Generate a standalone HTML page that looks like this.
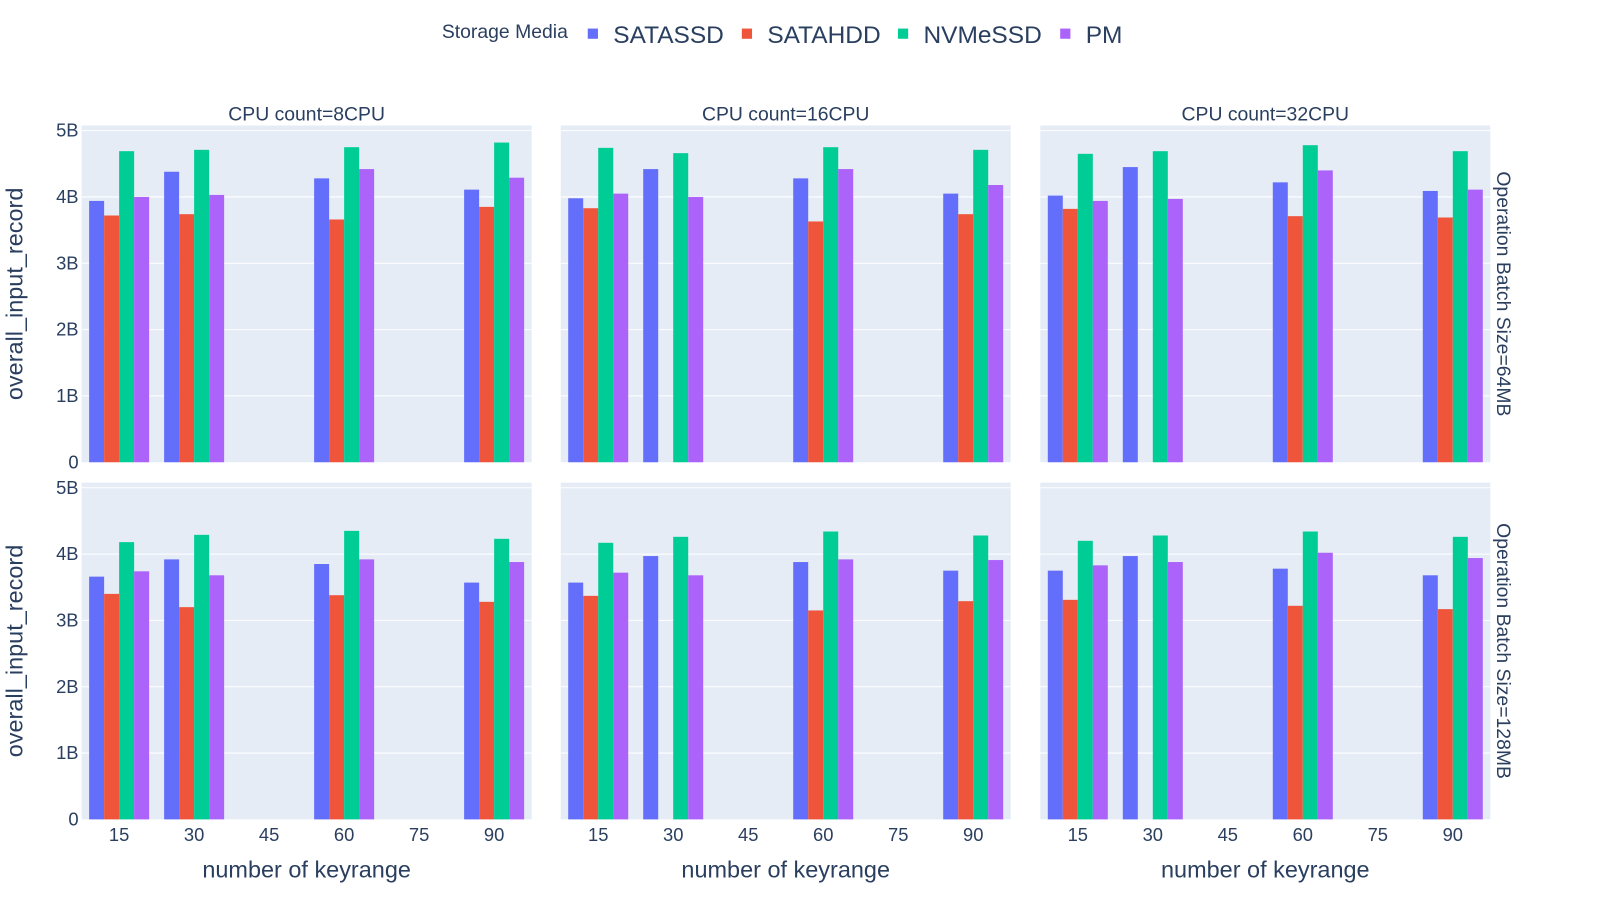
<!DOCTYPE html>
<html><head><meta charset="utf-8"><style>
body{margin:0;background:#fff;font-family:"Liberation Sans",sans-serif}
svg text{font-family:"Liberation Sans",sans-serif;fill:#2a3f5f}
</style></head><body>
<svg id="c0" width="1600" height="900" xmlns="http://www.w3.org/2000/svg"><g id="c" transform="scale(1.0204)"></g></svg>
<script>
const keyranges=[15,30,60,90];
const series=["SATASSD","SATAHDD","NVMeSSD","PM"];
const colors=["#636efa","#EF553B","#00cc96","#ab63fa"];
const cpuLabels=["CPU count=8CPU","CPU count=16CPU","CPU count=32CPU"];
const batchLabels=["Operation Batch Size=64MB","Operation Batch Size=128MB"];
const xTicks=[15,30,45,60,75,90];
const yTicks=[0,1,2,3,4,5];
const yTickLabels=["0","1B","2B","3B","4B","5B"];
// values in billions: [row][panel][series][keyrange]
const r1p1=[[3.94,4.38,4.28,4.11],[3.72,3.74,3.66,3.85],[4.69,4.71,4.75,4.82],[4.0,4.03,4.42,4.29]];
const r1p2=[[3.98,4.42,4.28,4.05],[3.83,null,3.63,3.74],[4.74,4.66,4.75,4.71],[4.05,4.0,4.42,4.18]];
const r1p3=[[4.02,4.45,4.22,4.09],[3.82,null,3.71,3.69],[4.65,4.69,4.78,4.69],[3.94,3.97,4.4,4.11]];
const r2p1=[[3.66,3.92,3.85,3.57],[3.4,3.2,3.38,3.28],[4.18,4.29,4.35,4.23],[3.74,3.68,3.92,3.88]];
const r2p2=[[3.57,3.97,3.88,3.75],[3.37,null,3.15,3.29],[4.17,4.26,4.34,4.28],[3.72,3.68,3.92,3.91]];
const r2p3=[[3.75,3.97,3.78,3.68],[3.31,null,3.22,3.17],[4.2,4.28,4.34,4.26],[3.83,3.88,4.02,3.94]];
const data=[[r1p1,r1p2,r1p3],[r2p1,r2p2,r2p3]];

const NS="http://www.w3.org/2000/svg";
const svg=document.getElementById('c');
function mk(tag,attrs,parent){const e=document.createElementNS(NS,tag);for(const k in attrs)e.setAttribute(k,attrs[k]);(parent||svg).appendChild(e);return e;}
const panelX=[80,549.5,1019.5], panelW=441;
const rowZero=[453,803], pxPerB=65, panelTop=[123,473];
const xMin=7.5,xMax=97.5;
function xs(p,v){return panelX[p]+(v-xMin)/(xMax-xMin)*panelW;}
function ys(r,v){return rowZero[r]-v*pxPerB;}

for(let r=0;r<2;r++)for(let p=0;p<3;p++){
  const bg=mk('rect',{x:panelX[p],y:panelTop[r],width:panelW,height:rowZero[r]-panelTop[r],fill:"#E5ECF6"});
  
  
  yTicks.forEach((t,i)=>{
    if(t>0){const l=mk('line',{x1:panelX[p],x2:panelX[p]+panelW,y1:ys(r,t),y2:ys(r,t),stroke:"#fff","stroke-width":1});
    }
    if(p==0){const tx=mk('text',{x:77,y:ys(r,t)+6,"text-anchor":"end","font-size":18});tx.textContent=yTickLabels[i];
    }
  });
  const slot=15*0.8/4;
  for(let s=0;s<4;s++)for(let k=0;k<4;k++){
    const v=data[r][p][s][k]; if(v==null)continue;
    const x0=keyranges[k]-6+s*slot;
    const b=mk('rect',{x:xs(p,x0),y:ys(r,v),width:xs(p,x0+slot)-xs(p,x0),height:rowZero[r]-ys(r,v),fill:colors[s]});
    
    
  }
  if(r==1){
    xTicks.forEach(t=>{const tx=mk('text',{x:xs(p,t),y:824,"text-anchor":"middle","font-size":18});tx.textContent=t;
    });
    const at=mk('text',{x:panelX[p]+panelW/2,y:860,"text-anchor":"middle","font-size":23});at.textContent="number of keyrange";
    
  } else {
    const ft=mk('text',{x:panelX[p]+panelW/2,y:118,"text-anchor":"middle","font-size":19});ft.textContent=cpuLabels[p];
    
  }
}
for(let r=0;r<2;r++){
  const cy=(panelTop[r]+rowZero[r])/2;
  const yt=mk('text',{x:0,y:0,"text-anchor":"middle","font-size":23,transform:`translate(22,${cy}) rotate(-90)`});yt.textContent="overall_input_record";
  
  const rt=mk('text',{x:0,y:0,"text-anchor":"middle","font-size":19,transform:`translate(1467,${cy}) rotate(90)`});rt.textContent=batchLabels[r];
  
}
const lt=mk('text',{x:433,y:37,"font-size":19});lt.textContent="Storage Media";

const legX=[576,727,880,1039];
series.forEach((s,i)=>{
  const g=mk('g',{});
  
  
  mk('rect',{x:legX[i],y:28,width:10,height:10,fill:colors[i]},g);
  const t=mk('text',{x:legX[i]+25,y:42,"font-size":24},g);t.textContent=s;
});
</script>
</body></html>
